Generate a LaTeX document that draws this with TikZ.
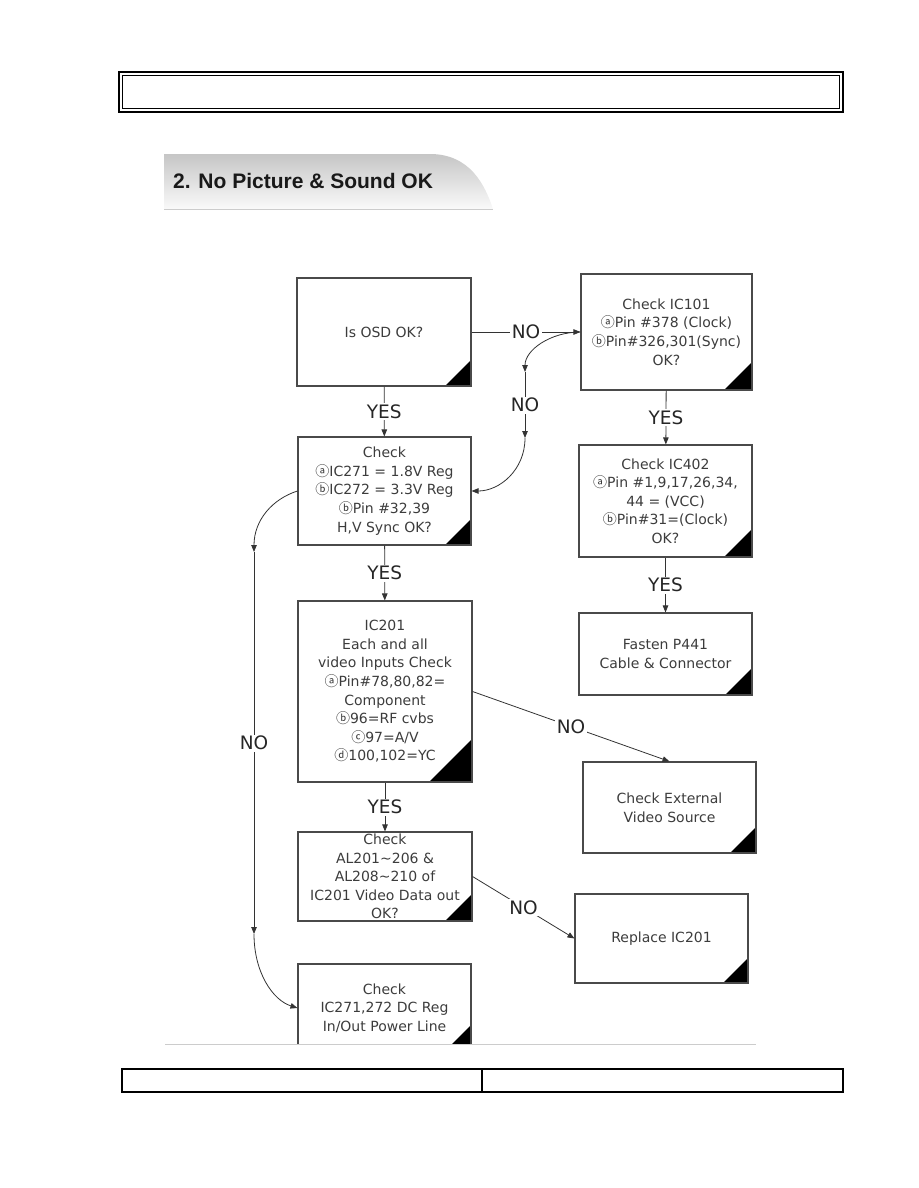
\documentclass[tikz,border=0pt]{standalone}
\usepackage{fontspec}
\setmainfont{DejaVu Sans}
\newfontfamily\arialfont{Liberation Sans}
\newfontfamily\cjkfont{Noto Sans CJK KR}
\newcommand\enc[1]{{\cjkfont #1}}
\usetikzlibrary{arrows.meta}
\definecolor{boxline}{HTML}{4A4A4A}
\definecolor{boxtext}{HTML}{3C3C3C}

\begin{document}
\begin{tikzpicture}[x=1pt,y=-1pt,>={Triangle[length=7pt,width=5.5pt]},
 fc/.style={draw=boxline,line width=1.1pt,inner sep=0pt,align=center,text=boxtext,
  font=\fontsize{14}{18.6}\selectfont,tri=26},
 tri/.style={path picture={\fill[black] ([xshift=-#1pt]path picture bounding box.south east)
  -- (path picture bounding box.south east) -- ([yshift=#1pt]path picture bounding box.south east) -- cycle;}},
 arr/.style={->,line width=0.8pt,draw=black!80},
 lbl/.style={fill=white,inner sep=1.5pt,text=black!85,font=\fontsize{18.5}{21}\selectfont}]
\useasboundingbox (0,0) rectangle (918,1188);
% page frame at the top
\draw[line width=1.6pt] (119,72) rectangle (843,112);
\draw[line width=0.8pt] (122.5,75.5) rectangle (839.5,108.5);
% title tab
\shade[top color=gray!45,bottom color=gray!4] (164,154) -- (430,154) .. controls (470,154) and (485,185) .. (493,209) -- (164,209) -- cycle;
\draw[gray!40,line width=0.8pt] (164,209) -- (493,209);
\node[anchor=base west,inner sep=0pt,font=\arialfont\bfseries\fontsize{21}{24}\selectfont,text=black!90] (ttl) at (173,188) {2. No Picture \& Sound OK};
% boxes
\node[fc,minimum width=174pt,minimum height=108pt] (osd) at (384,332) {Is OSD OK?};
\node[fc,minimum width=171pt,minimum height=116pt,tri=28] (ic101) at (666.5,332) {Check IC101\\\enc{ⓐ}Pin \#378 (Clock)\\\enc{ⓑ}Pin\#326,301(Sync)\\OK?};
\node[fc,minimum width=173pt,minimum height=108pt] (reg) at (384.5,491) {Check\\\enc{ⓐ}IC271 = 1.8V Reg\\\enc{ⓑ}IC272 = 3.3V Reg\\\enc{ⓑ}Pin \#32,39\\H,V Sync OK?};
\node[fc,minimum width=173pt,minimum height=112pt,tri=28] (ic402) at (665.5,501) {Check IC402\\\enc{ⓐ}Pin \#1,9,17,26,34,\\44 = (VCC)\\\enc{ⓑ}Pin\#31=(Clock)\\OK?};
\node[fc,minimum width=174pt,minimum height=181pt,tri=43] (inputs) at (385,691.5) {IC201\\Each and all\\video Inputs Check\\\enc{ⓐ}Pin\#78,80,82=\\Component\\\enc{ⓑ}96=RF cvbs\\\enc{ⓒ}97=A/V\\\enc{ⓓ}100,102=YC};
\node[fc,minimum width=173pt,minimum height=82pt,tri=27] (fasten) at (665.5,654) {Fasten P441\\Cable \& Connector};
\node[fc,minimum width=173pt,minimum height=91pt] (ext) at (669.5,807.5) {Check External\\Video Source};
\node[fc,minimum width=174pt,minimum height=89pt,tri=27] (data) at (385,876.5) {Check\\AL201\textasciitilde206 \&\\AL208\textasciitilde210 of\\IC201 Video Data out\\OK?};
\node[fc,minimum width=173pt,minimum height=89pt,tri=25] (repl) at (661.5,938.5) {Replace IC201};
\begin{scope}
\clip (0,0) rectangle (918,1044);
\node[fc,minimum width=173pt,minimum height=88pt,tri=27] (power) at (384.5,1008) {Check\\IC271,272 DC Reg\\In/Out Power Line};
\end{scope}
\coordinate (c1) at (525,372);
\coordinate (c2) at (525,438);
\coordinate (l1) at (254,552);
\coordinate (l2) at (254,934);
% connectors
\draw[arr] (osd) -- node[lbl]{YES} (reg);
\draw[arr] (reg) -- node[lbl]{YES} (inputs);
\draw[arr] (inputs) -- node[lbl]{YES} (data);
\draw[arr] (ic101) -- node[lbl]{YES} (ic402);
\draw[arr] (ic402) -- node[lbl]{YES} (fasten);
\draw[arr] (osd.east) -- node[lbl]{NO} (ic101.west);
\draw[arr] (ic101.west) .. controls +(-30,0) and +(0,-22) .. (c1);
\draw[arr] (c1) -- node[lbl]{NO} (c2);
\draw[arr] (c2) .. controls +(0,32) and +(28,0) .. (reg.east);
\draw[arr] (inputs.east) -- node[lbl]{NO} (ext.north);
\draw[arr] (data.east) -- node[lbl]{NO} (repl.west);
\draw[arr] (reg.west) .. controls +(-25,8) and +(0,-32) .. (l1);
\draw[arr] (l1) -- node[lbl]{NO} (l2);
\draw[arr] (l2) .. controls +(0,38) and +(-25,-8) .. (power.west);
% page frame at the bottom
\draw[gray!40,line width=1pt] (165,1044) -- (756,1044);
\draw[line width=1.3pt] (122,1069) rectangle (843,1092);
\draw[line width=1.3pt] (482,1069) -- (482,1092);
\end{tikzpicture}
\end{document}
